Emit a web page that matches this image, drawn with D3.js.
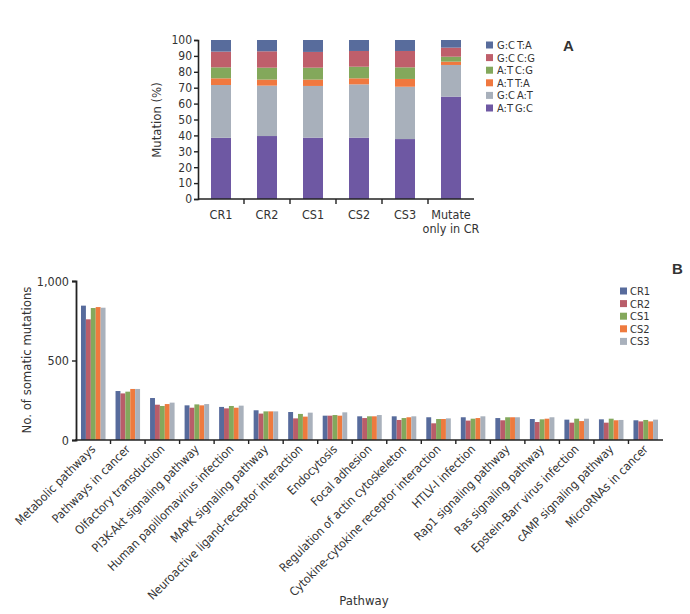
<!DOCTYPE html>
<html><head><meta charset="utf-8">
<script src="https://cdn.jsdelivr.net/npm/d3@7/dist/d3.min.js"></script>
<style>
body{margin:0;background:#fff;}
svg text{font-family:"Liberation Sans Narrow","DejaVu Sans Condensed","Arial Narrow",sans-serif;fill:#333;}
</style></head><body>
<svg id="chart" width="690" height="614"></svg>
<script>
// ---- Panel A data ----
const samplesA = ["CR1","CR2","CS1","CS2","CS3","Mutate\nonly in CR"];
const mutTypes = ["A:T G:C","G:C A:T","A:T T:A","A:T C:G","G:C C:G","G:C T:A"]; // bottom -> top
const mutColors = ["#6e58a3","#a8b0bb","#f0783f","#83a85b","#bf5f6b","#586c9c"];
const atgc = [38.5, 39.6, 38.6, 38.6, 37.7, 64.4];
const gcat = [33.2, 31.7, 32.5, 33.5, 32.9, 19.9];
const atta = [4.2, 3.8, 4.0, 3.8, 4.9, 2.1];
const atcg = [6.9, 7.5, 7.5, 7.3, 7.3, 3.1];
const gccg = [9.9, 10.3, 9.9, 9.9, 10.3, 5.7];
const gcta = [7.3, 7.1, 7.5, 6.9, 6.9, 4.8];
const yTicksA = [0,10,20,30,40,50,60,70,80,90,100];

// ---- Panel B data ----
const pathways = ["Metabolic pathways","Pathways in cancer","Olfactory transduction","PI3K-Akt signaling pathway","Human papillomavirus infection","MAPK signaling pathway","Neuroactive ligand-receptor interaction","Endocytosis","Focal adhesion","Regulation of actin cytoskeleton","Cytokine-cytokine receptor interaction","HTLV-I infection","Rap1 signaling pathway","Ras signaling pathway","Epstein-Barr virus infection","cAMP signaling pathway","MicroRNAs in cancer"];
const seriesB = ["CR1","CR2","CS1","CS2","CS3"];
const colorsB = ["#576b9c","#b95d69","#84a85c","#ee7a3e","#a9b1bc"];
const cr1 = [845,308,264,218,208,187,176,153,149,149,143,143,138,132,128,130,124];
const cr2 = [759,293,222,203,199,166,136,153,138,126,105,122,124,113,109,109,117];
const cs1 = [830,304,214,224,214,180,164,157,149,138,132,134,143,130,134,134,126];
const cs2 = [836,321,226,218,203,180,147,153,149,143,132,138,143,134,119,124,117];
const cs3 = [832,321,235,226,216,180,172,174,157,149,136,149,143,143,134,126,128];
const yTicksB = [0,500,1000];

const svg = d3.select("#chart");

// ================= Panel A =================
(function(){
  const x = d3.scaleBand().domain(samplesA).range([198,474]).paddingInner(0).paddingOuter(0);
  const y = d3.scaleLinear().domain([0,100]).range([199,40]);
  const g = svg.append("g");
  const valsBy = [atgc,gcat,atta,atcg,gccg,gcta];
  const rows = samplesA.map((s,i)=>{const o={s}; mutTypes.forEach((m,k)=>o[m]=valsBy[k][i]); return o;});
  const stack = d3.stack().keys(mutTypes)(rows);
  const bw = 20;
  stack.forEach((layer,k)=>{
    g.selectAll(null).data(layer).enter().append("rect")
      .attr("x", d=>x(d.data.s)+x.bandwidth()/2-bw/2)
      .attr("width", bw)
      .attr("y", d=>y(Math.min(100,d[1])))
      .attr("height", d=>y(d[0])-y(Math.min(100,d[1])))
      .attr("fill", mutColors[k]);
  });
  // y axis
  const ya = g.append("g").attr("transform","translate(198,0)")
    .call(d3.axisLeft(y).tickValues(yTicksA).tickSize(4).tickPadding(2));
  ya.select(".domain").attr("stroke","#222").attr("stroke-width",1.6);
  ya.selectAll(".tick line").attr("stroke","#222").attr("stroke-width",1.4);
  ya.selectAll("text").attr("font-size",12).attr("fill","#333");
  // x axis with boundary ticks
  const xa = g.append("g");
  xa.append("line").attr("x1",198).attr("x2",474).attr("y1",y(0)).attr("y2",y(0)).attr("stroke","#222").attr("stroke-width",1.6);
  samplesA.slice(1).forEach(s=>{
    xa.append("line").attr("x1",x(s)).attr("x2",x(s)).attr("y1",y(0)).attr("y2",y(0)+5).attr("stroke","#222").attr("stroke-width",1.4);
  });
  samplesA.forEach(s=>{
    const lines = s.split("\n");
    const t = xa.append("text").attr("text-anchor","middle").attr("font-size",12.5)
      .attr("x", x(s)+x.bandwidth()/2).attr("y", 219);
    lines.forEach((l,i)=>t.append("tspan").attr("x",x(s)+x.bandwidth()/2).attr("dy", i?14:0).text(l));
  });
  g.append("text").attr("transform","translate(161,120) rotate(-90)").attr("text-anchor","middle")
    .attr("font-size",13).text("Mutation (%)");
  // legend (top item = G:C T:A)
  const legOrder = mutTypes.slice().reverse();
  const legCol = mutColors.slice().reverse();
  legOrder.forEach((m,i)=>{
    const yy = 45 + i*12.6;
    g.append("rect").attr("x",486).attr("y",yy-3.5).attr("width",7).attr("height",7).attr("fill",legCol[i]);
    g.append("text").attr("x",497).attr("y",yy+4).attr("font-size",11).text(m.replace(" ","\u2009"));
  });
  g.append("text").attr("x",563).attr("y",51).attr("font-size",15).attr("font-weight","bold")
    .style("font-family","Liberation Sans, Arial, sans-serif").attr("fill","#222").text("A");
})();

// ================= Panel B =================
(function(){
  const x0 = d3.scaleBand().domain(pathways).range([76,663]).paddingInner(0).paddingOuter(0);
  const x1 = d3.scaleBand().domain(seriesB).range([5, x0.bandwidth()-5]).padding(0);
  const y = d3.scaleLinear().domain([0,1000]).range([440,281]);
  const g = svg.append("g");
  const vals = [cr1,cr2,cs1,cs2,cs3];
  seriesB.forEach((s,k)=>{
    g.selectAll(null).data(pathways).enter().append("rect")
      .attr("x",(p)=>x0(p)+x1(s))
      .attr("width", x1.bandwidth())
      .attr("y",(p,i)=>y(vals[k][i]))
      .attr("height",(p,i)=>y(0)-y(vals[k][i]))
      .attr("fill",colorsB[k]);
  });
  const ya = g.append("g").attr("transform","translate(76,0)")
    .call(d3.axisLeft(y).tickValues(yTicksB).tickSize(4).tickPadding(3).tickFormat(d3.format(",")));
  ya.select(".domain").attr("stroke","#222").attr("stroke-width",1.8);
  ya.selectAll(".tick line").attr("stroke","#222").attr("stroke-width",1.4);
  ya.selectAll("text").attr("font-size",12.5).attr("fill","#444");
  const xa = g.append("g");
  xa.append("line").attr("x1",75).attr("x2",663).attr("y1",y(0)).attr("y2",y(0)).attr("stroke","#222").attr("stroke-width",1.6);
  pathways.slice(1).forEach(p=>{
    xa.append("line").attr("x1",x0(p)).attr("x2",x0(p)).attr("y1",y(0)).attr("y2",y(0)+4).attr("stroke","#222").attr("stroke-width",1.4);
  });
  pathways.forEach(p=>{
    const cx = x0(p)+x0.bandwidth()/2+3;
    xa.append("text").attr("text-anchor","end").attr("font-size",12)
      .attr("transform",`translate(${cx},450) rotate(-45)`).text(p);
  });
  g.append("text").attr("transform","translate(31,360) rotate(-90)").attr("text-anchor","middle")
    .attr("font-size",13).text("No. of somatic mutations");
  g.append("text").attr("x",364).attr("y",605).attr("text-anchor","middle").attr("font-size",13).text("Pathway");
  seriesB.forEach((s,i)=>{
    const yy = 291 + i*12.6;
    g.append("rect").attr("x",620).attr("y",yy-3.5).attr("width",7).attr("height",7).attr("fill",colorsB[i]);
    g.append("text").attr("x",630).attr("y",yy+4).attr("font-size",11).text(s);
  });
  g.append("text").attr("x",672).attr("y",274).attr("font-size",15).attr("font-weight","bold")
    .style("font-family","Liberation Sans, Arial, sans-serif").attr("fill","#222").text("B");
})();
</script>
</body></html>
